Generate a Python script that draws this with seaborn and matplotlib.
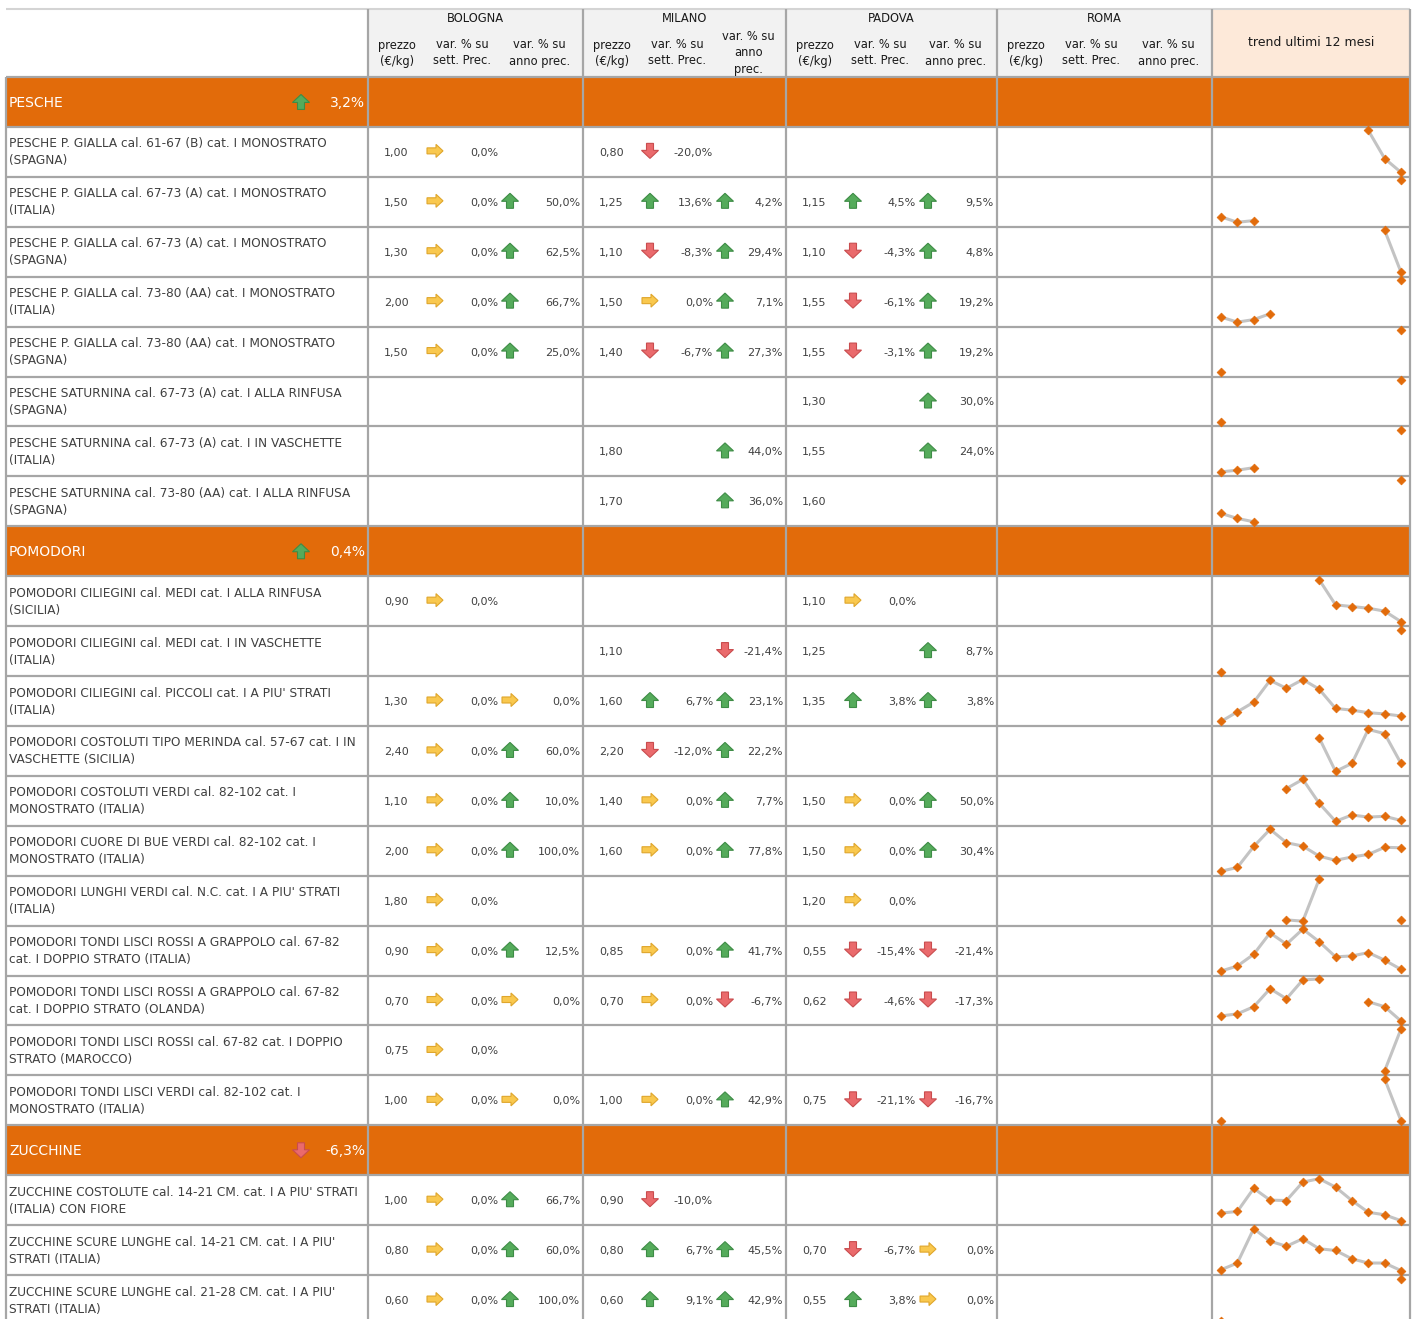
import numpy as np
import pandas as pd
import matplotlib
matplotlib.use("Agg")
import matplotlib.pyplot as plt
import seaborn as sns
from matplotlib.patches import Rectangle, Polygon

nan = np.nan

markets = ["BOLOGNA", "MILANO", "PADOVA", "ROMA"]
sections = ["PESCHE", "POMODORI", "ZUCCHINE"]
section_var = [3.2, 0.4, -6.3]
section_sizes = [8, 11, 3]

products = [
    "PESCHE P. GIALLA cal. 61-67 (B) cat. I MONOSTRATO\n(SPAGNA)",
    "PESCHE P. GIALLA cal. 67-73 (A) cat. I MONOSTRATO\n(ITALIA)",
    "PESCHE P. GIALLA cal. 67-73 (A) cat. I MONOSTRATO\n(SPAGNA)",
    "PESCHE P. GIALLA cal. 73-80 (AA) cat. I MONOSTRATO\n(ITALIA)",
    "PESCHE P. GIALLA cal. 73-80 (AA) cat. I MONOSTRATO\n(SPAGNA)",
    "PESCHE SATURNINA cal. 67-73 (A) cat. I ALLA RINFUSA\n(SPAGNA)",
    "PESCHE SATURNINA cal. 67-73 (A) cat. I IN VASCHETTE\n(ITALIA)",
    "PESCHE SATURNINA cal. 73-80 (AA) cat. I ALLA RINFUSA\n(SPAGNA)",
    "POMODORI CILIEGINI cal. MEDI cat. I ALLA RINFUSA\n(SICILIA)",
    "POMODORI CILIEGINI cal. MEDI cat. I IN VASCHETTE\n(ITALIA)",
    "POMODORI CILIEGINI cal. PICCOLI cat. I A PIU' STRATI\n(ITALIA)",
    "POMODORI COSTOLUTI TIPO MERINDA cal. 57-67 cat. I IN\nVASCHETTE (SICILIA)",
    "POMODORI COSTOLUTI VERDI cal. 82-102 cat. I\nMONOSTRATO (ITALIA)",
    "POMODORI CUORE DI BUE VERDI cal. 82-102 cat. I\nMONOSTRATO (ITALIA)",
    "POMODORI LUNGHI VERDI cal. N.C. cat. I A PIU' STRATI\n(ITALIA)",
    "POMODORI TONDI LISCI ROSSI A GRAPPOLO cal. 67-82\ncat. I DOPPIO STRATO (ITALIA)",
    "POMODORI TONDI LISCI ROSSI A GRAPPOLO cal. 67-82\ncat. I DOPPIO STRATO (OLANDA)",
    "POMODORI TONDI LISCI ROSSI cal. 67-82 cat. I DOPPIO\nSTRATO (MAROCCO)",
    "POMODORI TONDI LISCI VERDI cal. 82-102 cat. I\nMONOSTRATO (ITALIA)",
    "ZUCCHINE COSTOLUTE cal. 14-21 CM. cat. I A PIU' STRATI\n(ITALIA) CON FIORE",
    "ZUCCHINE SCURE LUNGHE cal. 14-21 CM. cat. I A PIU'\nSTRATI (ITALIA)",
    "ZUCCHINE SCURE LUNGHE cal. 21-28 CM. cat. I A PIU'\nSTRATI (ITALIA)",
]

bo_price = [1.00, 1.50, 1.30, 2.00, 1.50, nan, nan, nan, 0.90, nan, 1.30, 2.40, 1.10, 2.00, 1.80, 0.90, 0.70, 0.75, 1.00, 1.00, 0.80, 0.60]
bo_week = [0.0, 0.0, 0.0, 0.0, 0.0, nan, nan, nan, 0.0, nan, 0.0, 0.0, 0.0, 0.0, 0.0, 0.0, 0.0, 0.0, 0.0, 0.0, 0.0, 0.0]
bo_year = [nan, 50.0, 62.5, 66.7, 25.0, nan, nan, nan, nan, nan, 0.0, 60.0, 10.0, 100.0, nan, 12.5, 0.0, nan, 0.0, 66.7, 60.0, 100.0]

mi_price = [0.80, 1.25, 1.10, 1.50, 1.40, nan, 1.80, 1.70, nan, 1.10, 1.60, 2.20, 1.40, 1.60, nan, 0.85, 0.70, nan, 1.00, 0.90, 0.80, 0.60]
mi_week = [-20.0, 13.6, -8.3, 0.0, -6.7, nan, nan, nan, nan, nan, 6.7, -12.0, 0.0, 0.0, nan, 0.0, 0.0, nan, 0.0, -10.0, 6.7, 9.1]
mi_year = [nan, 4.2, 29.4, 7.1, 27.3, nan, 44.0, 36.0, nan, -21.4, 23.1, 22.2, 7.7, 77.8, nan, 41.7, -6.7, nan, 42.9, nan, 45.5, 42.9]

pd_price = [nan, 1.15, 1.10, 1.55, 1.55, 1.30, 1.55, 1.60, 1.10, 1.25, 1.35, nan, 1.50, 1.50, 1.20, 0.55, 0.62, nan, 0.75, nan, 0.70, 0.55]
pd_week = [nan, 4.5, -4.3, -6.1, -3.1, nan, nan, nan, 0.0, nan, 3.8, nan, 0.0, 0.0, 0.0, -15.4, -4.6, nan, -21.1, nan, -6.7, 3.8]
pd_year = [nan, 9.5, 4.8, 19.2, 19.2, 30.0, 24.0, nan, nan, 8.7, 3.8, nan, 50.0, 30.4, nan, -21.4, -17.3, nan, -16.7, nan, 0.0, 0.0]

rm_price = [nan] * 22
rm_week = [nan] * 22
rm_year = [nan] * 22

# trend ultimi 12 mesi (relative level read from the sparklines, 0 = min, 1 = max)
months = list(range(12))
trend = [
    [nan] * 9 + [1.0, 0.33, 0.0],
    [0.13, 0.0, 0.04] + [nan] * 8 + [1.0],
    [nan] * 10 + [1.0, 0.0],
    [0.12, 0.0, 0.06, 0.2] + [nan] * 7 + [1.0],
    [0.0] + [nan] * 10 + [1.0],
    [0.0] + [nan] * 10 + [1.0],
    [0.0, 0.04, 0.1] + [nan] * 8 + [1.0],
    [0.2, 0.08, 0.0] + [nan] * 8 + [1.0],
    [nan] * 6 + [1.0, 0.40, 0.36, 0.32, 0.25, 0.0],
    [0.0] + [nan] * 10 + [1.0],
    [0.0, 0.23, 0.46, 0.98, 0.79, 1.0, 0.77, 0.31, 0.27, 0.21, 0.18, 0.13],
    [nan] * 6 + [0.80, 0.0, 0.19, 1.0, 0.90, 0.19],
    [nan] * 4 + [0.78, 1.0, 0.43, 0.0, 0.15, 0.10, 0.12, 0.02],
    [0.0, 0.09, 0.59, 1.0, 0.68, 0.60, 0.36, 0.26, 0.34, 0.40, 0.57, 0.56],
    [nan] * 4 + [0.03, 0.0, 1.0] + [nan] * 4 + [0.03],
    [0.0, 0.12, 0.40, 0.91, 0.64, 1.0, 0.70, 0.34, 0.36, 0.44, 0.26, 0.04],
    [0.12, 0.17, 0.34, 0.77, 0.53, 0.98, 1.0, nan, nan, 0.46, 0.34, 0.0],
    [nan] * 10 + [0.0, 1.0],
    [0.0] + [nan] * 9 + [1.0, 0.0],
    [0.18, 0.22, 0.77, 0.49, 0.48, 0.92, 1.0, 0.80, 0.48, 0.20, 0.14, 0.0],
    [0.02, 0.18, 1.0, 0.70, 0.58, 0.76, 0.52, 0.48, 0.28, 0.18, 0.18, 0.0],
    [0.0] + [nan] * 10 + [1.0],
]

market_data = [
    (bo_price, bo_week, bo_year),
    (mi_price, mi_week, mi_year),
    (pd_price, pd_week, pd_year),
    (rm_price, rm_week, rm_year),
]

# ---- layout (pixels) ----
W, H = 1417, 1319
col_x = [6, 368, 583, 786, 997, 1212, 1410]
head_top, head_bot = 9, 77
row_h = 49.92
ORANGE = "#e26b0a"
GRID = "#a6a6a6"
TXT = "#404040"
HDR = "#1a1a1a"

sns.set_theme(style="white")
plt.rcParams["font.family"] = ["DejaVu Sans"]

fig = plt.figure(figsize=(W / 100, H / 100), dpi=100)
ax = fig.add_axes([0, 0, 1, 1])
ax.set_xlim(0, W)
ax.set_ylim(H, 0)
ax.axis("off")


def fmt(v, pct=False):
    s = f"{v:.1f}" if pct else f"{v:.2f}"
    s = s.replace(".", ",")
    return s + "%" if pct else s


def arrow(cx, cy, v):
    if v > 0:
        d, fc, ec = "up", "#55ab5b", "#3e8c46"
    elif v < 0:
        d, fc, ec = "down", "#ea6a6c", "#c94c4e"
    else:
        d, fc, ec = "right", "#f9c84e", "#dfa62c"
    if d == "right":
        w, h, hl, sw = 16, 13, 7, 6
        pts = [(w / 2, 0), (w / 2 - hl, -h / 2), (w / 2 - hl, -sw / 2), (-w / 2, -sw / 2),
               (-w / 2, sw / 2), (w / 2 - hl, sw / 2), (w / 2 - hl, h / 2)]
    else:
        w, h, hl, sw = 17, 15, 8, 7
        pts = [(0, -h / 2), (w / 2, -h / 2 + hl), (sw / 2, -h / 2 + hl), (sw / 2, h / 2),
               (-sw / 2, h / 2), (-sw / 2, -h / 2 + hl), (-w / 2, -h / 2 + hl)]
        if d == "down":
            pts = [(x, -y) for x, y in pts]
    ax.add_patch(Polygon([(cx + x, cy + y) for x, y in pts], closed=True,
                         fc=fc, ec=ec, lw=0.8, zorder=4))


# header
ax.add_patch(Rectangle((col_x[1], head_top), col_x[5] - col_x[1], head_bot - head_top,
                       fc="#f2f2f2", ec="none", zorder=0))
ax.add_patch(Rectangle((col_x[5], head_top), col_x[6] - col_x[5], head_bot - head_top,
                       fc="#fde9d9", ec="none", zorder=0))
ax.hlines(head_top, col_x[0], col_x[6], color="#d4d4d4", lw=1.5, zorder=2)

sub_hdr = [["prezzo\n(€/kg)", "var. % su\nsett. Prec.", "var. % su\nanno prec."]] * 4
sub_hdr[1] = ["prezzo\n(€/kg)", "var. % su\nsett. Prec.", "var. % su\nanno\nprec."]
for m, name in enumerate(markets):
    L, R = col_x[m + 1], col_x[m + 2]
    ax.text((L + R) / 2, 19, name, ha="center", va="center", fontsize=8.3, color=HDR)
    centers = [L + 29, L + 94, (L + 128 + R) / 2]
    for c, lab in zip(centers, sub_hdr[m]):
        parts = lab.split("\n")
        y0 = 53 - (len(parts) - 1) * 8
        for j, p in enumerate(parts):
            ax.text(c, y0 + 16 * j, p, ha="center", va="center", fontsize=8.3, color=HDR)
ax.text((col_x[5] + col_x[6]) / 2, 42, "trend ultimi 12 mesi", ha="center", va="center",
        fontsize=9, color=HDR)

# body
y = head_bot
row = 0
body_lines = [head_bot]
for s, name in enumerate(sections):
    ax.add_patch(Rectangle((col_x[0], y), col_x[6] - col_x[0], row_h, fc=ORANGE, ec="none", zorder=0))
    cy = y + row_h / 2
    ax.text(9, cy + 1, name, ha="left", va="center", fontsize=10, color="white")
    ax.text(365, cy + 1, fmt(section_var[s], True), ha="right", va="center", fontsize=10, color="white")
    arrow(301, cy, section_var[s])
    y += row_h
    body_lines.append(y)
    for k in range(section_sizes[s]):
        cy = y + row_h / 2
        l1, l2 = products[row].split("\n")
        ax.text(9, y + 17, l1, ha="left", va="center", fontsize=8.7, color=TXT)
        ax.text(9, y + 34, l2, ha="left", va="center", fontsize=8.7, color=TXT)
        for m, (pr, wk, yr) in enumerate(market_data):
            L, R = col_x[m + 1], col_x[m + 2]
            if not np.isnan(pr[row]):
                ax.text(L + 16, cy + 1, fmt(pr[row]), ha="left", va="center", fontsize=8, color=TXT)
            if not np.isnan(wk[row]):
                arrow(L + 67, cy - 1, wk[row])
                ax.text(L + 130, cy + 1, fmt(wk[row], True), ha="right", va="center", fontsize=8, color=TXT)
            if not np.isnan(yr[row]):
                arrow(L + 142, cy - 1, yr[row])
                ax.text(R - 3, cy + 1, fmt(yr[row], True), ha="right", va="center", fontsize=8, color=TXT)

        # sparkline
        tax = fig.add_axes([col_x[5] / W, 1 - (y + row_h) / H, (col_x[6] - col_x[5]) / W, row_h / H])
        df = pd.DataFrame({"mese": months, "v": trend[row]})
        df["seg"] = df["v"].isna().cumsum()
        d = df.dropna()
        sns.lineplot(data=d, x="mese", y="v", units="seg", estimator=None, color="#bdbdbd",
                     lw=2.2, alpha=0.9, ax=tax, legend=False)
        sns.scatterplot(data=d, x="mese", y="v", marker="D", color=ORANGE, s=20,
                        edgecolor=ORANGE, linewidth=0.5, ax=tax, zorder=3, legend=False)
        for art in tax.get_children():
            try:
                art.set_clip_on(False)
            except Exception:
                pass
        tax.set_xlim(-0.55, 11.55)
        tax.set_ylim(-0.107, 1.083)
        tax.axis("off")

        y += row_h
        row += 1
        body_lines.append(y)

# grid
ax.hlines(body_lines, col_x[0], col_x[6], color=GRID, lw=1.6, zorder=2)
ax.vlines(col_x[1:], head_top, H, color=GRID, lw=1.6, zorder=2)
ax.vlines(col_x[0], head_bot, H, color=GRID, lw=1.6, zorder=2)

fig.savefig("out.png", dpi=100)
